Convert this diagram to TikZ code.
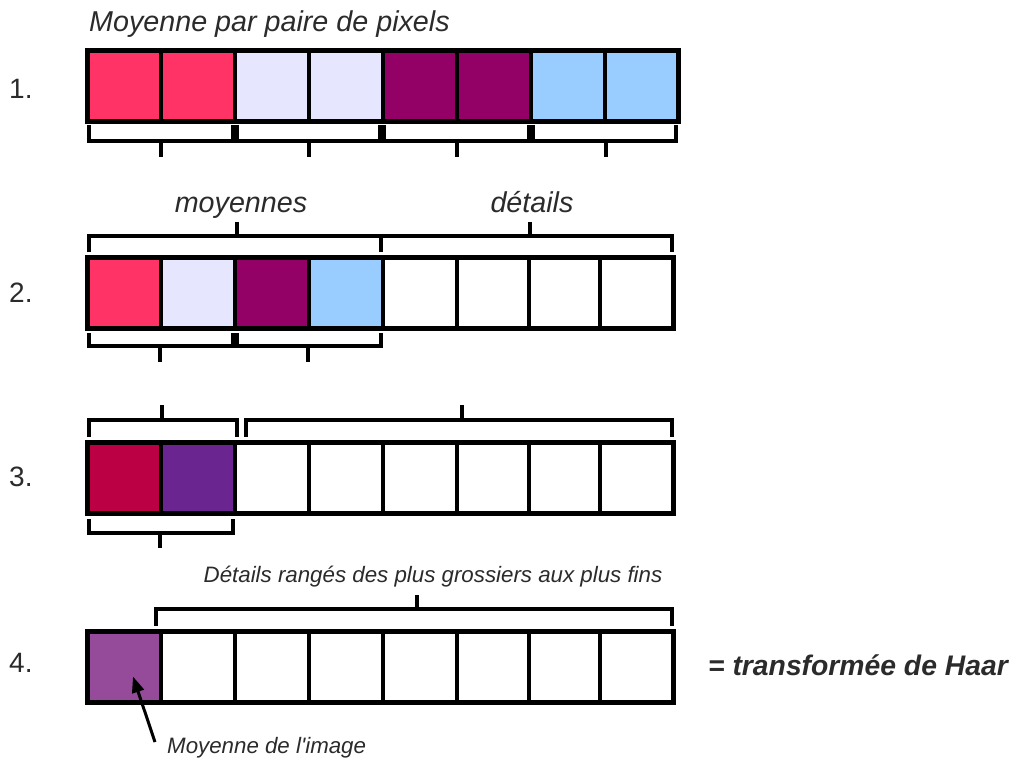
\documentclass[tikz,border=0pt]{standalone}
\usepackage{fontspec}
\setmainfont{Liberation Sans}
\usetikzlibrary{arrows.meta}
\definecolor{cred}{HTML}{FF3366}
\definecolor{clav}{HTML}{E6E6FF}
\definecolor{cmag}{HTML}{930066}
\definecolor{cblue}{HTML}{99CCFF}
\definecolor{ccrim}{HTML}{BB0044}
\definecolor{cpurp}{HTML}{6B2590}
\definecolor{cavg}{HTML}{954A9A}
\definecolor{txt}{HTML}{2B2B2B}
\begin{document}
\begin{tikzpicture}[x=1pt,y=-1pt,
  cell/.style={draw=black,line width=4pt,inner sep=0pt,outer sep=0pt},
  frame/.style={draw=black,line width=5pt},
  brk/.style={draw=black,line width=4pt,line join=miter},
  lbl/.style={text=txt,inner sep=0pt,anchor=base,font=\fontsize{28.7}{30}\selectfont\itshape},
  small/.style={text=txt,inner sep=0pt,font=\fontsize{22.3}{24}\selectfont\itshape},
  num/.style={text=txt,inner sep=0pt,anchor=base west,font=\fontsize{28}{30}\selectfont},
  arr/.style={draw=black,line width=3pt,-{Triangle[length=16pt,width=12pt]}}]
\useasboundingbox (0,0) rectangle (1015,766);
\fill[white] (0,0) rectangle (1015,766);

% Row 1
\foreach \i/\a/\b/\c in {1/87/161/cred,2/161/235/cred,3/235/309/clav,4/309/383/clav,
  5/383/457/cmag,6/457/531/cmag,7/531/605/cblue,8/605/678/cblue}
  \node[cell,fill=\c,minimum width={\b-\a},minimum height=71] (r1c\i) at ({(\a+\b)/2},85.5) {};
\draw[frame] (r1c1.north west) rectangle (r1c8.south east);

% Row 2
\foreach \i/\a/\b/\c in {1/87/161/cred,2/161/235/clav,3/235/309/cmag,4/309/383/cblue,
  5/383/457/white,6/457/529/white,7/529/600/white,8/600/673/white}
  \node[cell,fill=\c,minimum width={\b-\a},minimum height=71] (r2c\i) at ({(\a+\b)/2},292.5) {};
\draw[frame] (r2c1.north west) rectangle (r2c8.south east);

% Row 3
\foreach \i/\a/\b/\c in {1/87/161/ccrim,2/161/235/cpurp,3/235/309/white,4/309/383/white,
  5/383/457/white,6/457/529/white,7/529/600/white,8/600/673/white}
  \node[cell,fill=\c,minimum width={\b-\a},minimum height=71] (r3c\i) at ({(\a+\b)/2},477.5) {};
\draw[frame] (r3c1.north west) rectangle (r3c8.south east);

% Row 4
\foreach \i/\a/\b/\c in {1/87/161/cavg,2/161/235/white,3/235/309/white,4/309/383/white,
  5/383/457/white,6/457/529/white,7/529/600/white,8/600/673/white}
  \node[cell,fill=\c,minimum width={\b-\a},minimum height=71] (r4c\i) at ({(\a+\b)/2},666.5) {};
\draw[frame] (r4c1.north west) rectangle (r4c8.south east);

% Row 1 brackets (below)
\foreach \l/\r/\m in {89/233/161,237/380/309,384/529/457,533/676/606}{
  \draw[brk] (\l,125) -- (\l,141) -- (\r,141) -- (\r,125);
  \draw[brk] (\m,141) -- (\m,157);
}

% Row 2 brackets (above)
\draw[brk] (89,252) -- (89,236) -- (381,236) -- (381,252);
\draw[brk] (237,236) -- (237,222);
\draw[brk] (381,236) -- (672,236) -- (672,252);
\draw[brk] (530,236) -- (530,222);
% Row 2 brackets (below)
\foreach \l/\r/\m in {89/233/160,237/381/308}{
  \draw[brk] (\l,333) -- (\l,346) -- (\r,346) -- (\r,333);
  \draw[brk] (\m,346) -- (\m,362);
}

% Row 3 brackets (above)
\draw[brk] (89,437) -- (89,420) -- (237,420) -- (237,437);
\draw[brk] (162,420) -- (162,405);
\draw[brk] (246,437) -- (246,420) -- (672,420) -- (672,437);
\draw[brk] (462,420) -- (462,405);
% Row 3 bracket (below)
\draw[brk] (89,519) -- (89,533) -- (233,533) -- (233,519);
\draw[brk] (160,533) -- (160,548);

% Row 4 bracket (above)
\draw[brk] (156,626) -- (156,609) -- (672,609) -- (672,626);
\draw[brk] (417,609) -- (417,595);

% Texts
\node[lbl,anchor=base west] (title) at (89,31) {Moyenne par paire de pixels};
\node[lbl] (moy) at (241,212) {moyennes};
\node[lbl] (det) at (532,212) {détails};
\node[small] (rang) at (433,577) {Détails rangés des plus grossiers aux plus fins};
\node[small,anchor=west] (img) at (167,748) {Moyenne de l\textquotesingle image};
\node[text=txt,inner sep=0pt,font=\fontsize{28.3}{30}\selectfont\bfseries\itshape] (haar) at (858,665) {= transformée de Haar};
\node[num] (n1) at (9,98) {1.};
\node[num] (n2) at (9,302) {2.};
\node[num] (n3) at (9,486) {3.};
\node[num] (n4) at (9,672) {4.};

% Arrow
\coordinate (arrtail) at (155,742);
\draw[arr] (arrtail) -- ([shift={(9,10)}]r4c1.center);
\end{tikzpicture}
\end{document}
